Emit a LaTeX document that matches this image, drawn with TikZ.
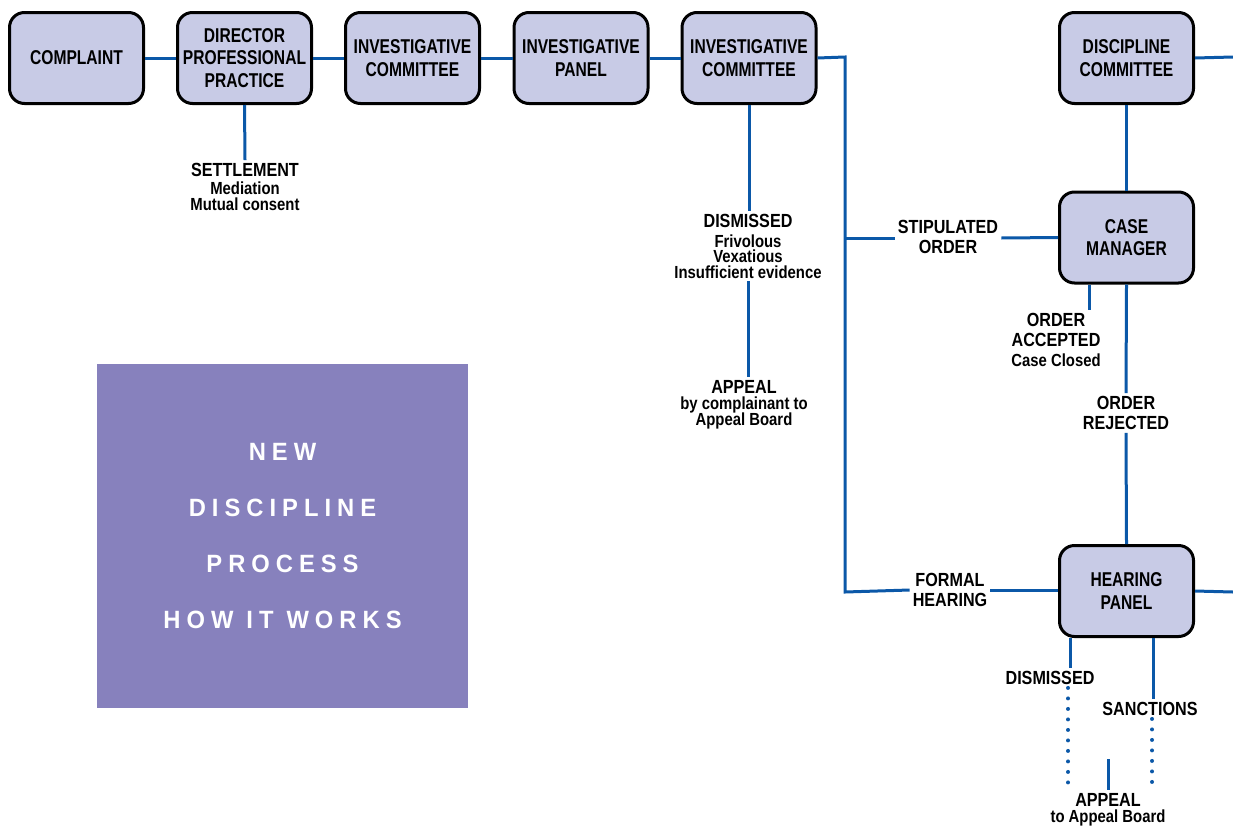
\documentclass[tikz,border=0pt]{standalone}
\usepackage{fontspec}
\setmainfont{Liberation Sans}[FakeStretch=0.78]
\newfontfamily\labelfont{Liberation Sans}[FakeStretch=0.85]
\newfontfamily\spacedfont{Liberation Sans}[FakeStretch=0.95, LetterSpace=24]
\usetikzlibrary{positioning}
\definecolor{boxfill}{HTML}{C8CBE6}
\definecolor{linkblue}{HTML}{0B58A8}
\definecolor{titlepurple}{HTML}{8781BD}
\newcommand{\subfont}{\fontsize{17.5}{15.5}\selectfont}
\newcommand{\wordgap}{\hspace{13pt}}
\tikzset{
    stage/.style={draw=black, line width=3pt, fill=boxfill, rounded corners=15pt,
        minimum width=134pt, minimum height=91pt, align=center,
        font=\fontsize{20}{22.5}\selectfont\bfseries},
    lbl/.style={align=center, inner sep=3pt, font=\labelfont\fontsize{19}{20}\selectfont\bfseries},
    link/.style={draw=linkblue, line width=3pt},
    dots/.style={draw=linkblue, line width=4pt, line cap=round, dash pattern=on 0pt off 10.5pt}
}

\begin{document}
\begin{tikzpicture}[x=1pt, y=-1pt]
    \useasboundingbox (0,0) rectangle (1233,827);
    % top row
    \node[stage] (complaint) at (76.5,58) {COMPLAINT};
    \node[stage] (director) at (244.5,58) {DIRECTOR\\PROFESSIONAL\\PRACTICE};
    \node[stage] (invcom) at (412.5,58) {INVESTIGATIVE\\COMMITTEE};
    \node[stage] (invpanel) at (581,58) {INVESTIGATIVE\\PANEL};
    \node[stage] (invcomb) at (749,58) {INVESTIGATIVE\\COMMITTEE};
    \node[stage] (discom) at (1126.5,58) {DISCIPLINE\\COMMITTEE};
    \node[stage] (casemgr) at (1126.5,237.5) {CASE\\MANAGER};
    \node[stage] (hearing) at (1126.5,591) {HEARING\\PANEL};

    % title square
    \node[fill=titlepurple, minimum width=371pt, minimum height=344pt, align=center,
        text=white, font=\spacedfont\fontsize{25}{56}\selectfont\bfseries]
        (title) at (282.5,536) {NEW\\DISCIPLINE\\PROCESS\\\mbox{HOW}\wordgap\mbox{IT}\wordgap\mbox{WORKS}};

    % labels
    \node[lbl] (settle) at (245,187) {SETTLEMENT\\[-2pt]\subfont Mediation\\[-4pt]\subfont Mutual consent};
    \node[lbl] (dismissed) at (748,246) {DISMISSED\\\subfont Frivolous\\[-4.5pt]\subfont Vexatious\\[-4.5pt]\subfont Insufficient evidence};
    \node[lbl] (appeal) at (744,405) {APPEAL\\[-4pt]\subfont by complainant to\\[-3.5pt]\subfont Appeal Board};
    \node[lbl] (stipulated) at (948,237) {STIPULATED\\ORDER};
    \node[lbl] (accepted) at (1056,340) {ORDER\\ACCEPTED\\\subfont Case Closed};
    \node[lbl] (rejected) at (1126,413) {ORDER\\REJECTED};
    \node[lbl] (formal) at (950,590) {FORMAL\\HEARING};
    \node[lbl] (hdismissed) at (1050,678) {DISMISSED};
    \node[lbl] (sanctions) at (1150,709) {SANCTIONS};
    \node[lbl] (appealb) at (1108,810) {APPEAL\\[-4pt]\subfont to Appeal Board};

    \coordinate (trunktop) at (845,57);
    \coordinate (trunkmid) at (845,238);
    \coordinate (trunkbot) at (845,592);
    \coordinate (discout) at (1233,57);
    \coordinate (hearout) at (1233,592);
    \coordinate (dotsleft) at (1068,787);
    \coordinate (dotsright) at (1152,790);
    \coordinate (appealtop) at (1108,759);

    % connectors
    \draw[link] (complaint) -- (director);
    \draw[link] (director) -- (invcom);
    \draw[link] (invcom) -- (invpanel);
    \draw[link] (invpanel) -- (invcomb);
    \draw[link] (invcomb.east) -- (trunktop) -- (trunkbot) -- (formal.west);
    \draw[link] (formal.east) -- (hearing.west |- formal.east);
    \draw[link] (trunkmid) -- (stipulated.west |- trunkmid);
    \draw[link] (stipulated.east |- trunkmid) -- (casemgr.west);
    \draw[link] (director.south) -- (settle.north);
    \draw[link] (invcomb.south) -- (dismissed.north -| invcomb.south);
    \draw[link] (dismissed.south) -- (dismissed.south |- appeal.north);
    \draw[link] (discom.east) -- (discout);
    \draw[link] (discom.south) -- (casemgr.north);
    \draw[link] ([xshift=-37pt]casemgr.south) -- ([xshift=-37pt]casemgr.south |- accepted.north);
    \draw[link] (casemgr.south) -- (rejected.north);
    \draw[link] (rejected.south) -- (hearing.north);
    \draw[link] (hearing.east) -- (hearout);
    \draw[link] ([xshift=-56.5pt]hearing.south) -- ([xshift=-56.5pt]hearing.south |- hdismissed.north);
    \draw[link] ([xshift=26.5pt]hearing.south) -- ([xshift=26.5pt]hearing.south |- sanctions.north);
    \draw[dots] (hdismissed.south -| dotsleft) -- (dotsleft);
    \draw[dots] (sanctions.south -| dotsright) -- (dotsright);
    \draw[link] (appealtop) -- (appealb.north);
\end{tikzpicture}
\end{document}
